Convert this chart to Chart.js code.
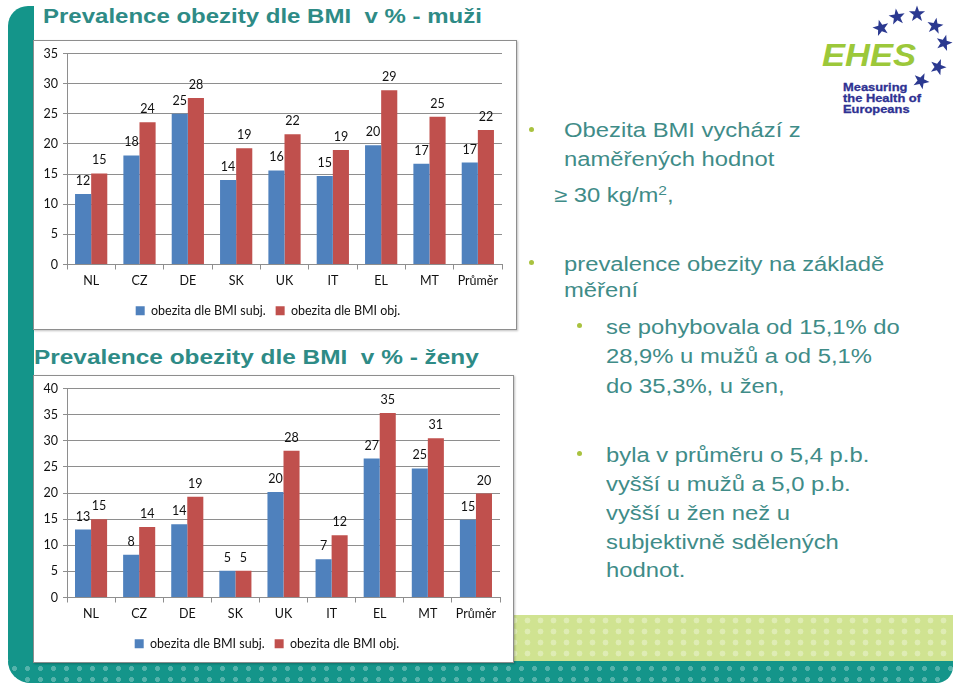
<!DOCTYPE html>
<html><head><meta charset="utf-8">
<script src="https://cdn.jsdelivr.net/npm/chart.js@4.4.1/dist/chart.umd.min.js"></script>
<style>
html,body{margin:0;padding:0;background:#fff;}
body{width:960px;height:690px;position:relative;overflow:hidden;font-family:"Liberation Sans",Arial,sans-serif;}
.abs{position:absolute;}
.leftband{left:8px;top:6px;width:26px;height:677px;background:#14958a;border-radius:20px 0 0 24px;}
.bottomband{left:8px;top:661px;width:945px;height:22px;background-color:#14958a;border-radius:0 0 18px 24px;
  background-image:radial-gradient(circle, rgba(255,255,255,0.28) 2.2px, transparent 2.8px);background-size:13px 11px;background-position:0 2px;}
.greenband{left:300px;top:615px;width:653px;height:46px;background-color:#d0e391;
  background-image:radial-gradient(circle, rgba(255,255,255,0.32) 2.6px, transparent 3.2px);background-size:13px 11px;}
.box{background:#fff;border:1px solid #8e8e8e;box-shadow:1px 1px 2px rgba(0,0,0,.25);box-sizing:content-box;}
.title{font-weight:bold;font-size:20px;line-height:20px;color:#2e8b86;white-space:nowrap;transform-origin:0 0;}
.txt{font-size:20px;line-height:20px;color:#3f8c88;white-space:nowrap;transform:scaleX(1.19);transform-origin:0 0;}
.txt sup{font-size:13px;line-height:0;vertical-align:7px;}
.bul{width:5px;height:5px;border-radius:50%;background:#a9c23f;}
.logo{color:#2e3192;font-weight:bold;font-size:11.5px;line-height:11px;white-space:nowrap;transform:scaleX(1.12);transform-origin:0 0;-webkit-text-stroke:0.3px #2e3192;}
.ehes{color:#9cc83a;font-weight:bold;font-style:italic;font-size:32px;line-height:32px;white-space:nowrap;transform:scaleX(1.08);transform-origin:0 0;}
</style></head>
<body>
<div class="abs greenband"></div>
<div class="abs leftband"></div>
<div class="abs bottomband"></div>

<div class="abs title" style="left:43px;top:6px;transform:scaleX(1.2);">Prevalence obezity dle BMI&nbsp; v % - muži</div>
<div class="abs title" style="left:34px;top:347px;transform:scaleX(1.22);">Prevalence obezity dle BMI&nbsp; v % - ženy</div>

<div class="abs box" style="left:33px;top:40px;width:482px;height:288px;"><canvas id="c1"></canvas></div>
<div class="abs box" style="left:33px;top:375px;width:479px;height:286px;"><canvas id="c2"></canvas></div>

<div class="abs bul" style="left:529px;top:127px;"></div>
<div class="abs txt" style="left:564px;top:120px;">Obezita BMI vychází z</div>
<div class="abs txt" style="left:564px;top:149px;">naměřených hodnot</div>
<div class="abs txt" style="left:554px;top:185px;">≥ 30 kg/m<sup>2</sup>,</div>
<div class="abs bul" style="left:529px;top:260px;"></div>
<div class="abs txt" style="left:564px;top:254px;">prevalence obezity na základě</div>
<div class="abs txt" style="left:564px;top:280px;">měření</div>
<div class="abs bul" style="left:577px;top:323px;"></div>
<div class="abs txt" style="left:606px;top:317px;">se pohybovala od 15,1% do</div>
<div class="abs txt" style="left:606px;top:346px;">28,9% u mužů a od 5,1%</div>
<div class="abs txt" style="left:606px;top:376px;">do 35,3%, u žen,</div>
<div class="abs bul" style="left:577px;top:451px;"></div>
<div class="abs txt" style="left:606px;top:445px;">byla v průměru o 5,4 p.b.</div>
<div class="abs txt" style="left:606px;top:474px;">vyšší u mužů a 5,0 p.b.</div>
<div class="abs txt" style="left:606px;top:503px;">vyšší u žen než u</div>
<div class="abs txt" style="left:606px;top:532px;">subjektivně sdělených</div>
<div class="abs txt" style="left:606px;top:560px;">hodnot.</div>

<svg class="abs" style="left:860px;top:0px;" width="100" height="100" viewBox="860 0 100 100">
  <defs><polygon id="st" points="0,-8.5 2,-2.8 8.1,-2.7 3.3,1.1 5,6.9 0,3.4 -5,6.9 -3.3,1.1 -8.1,-2.7 -2,-2.8" fill="#2b3990"/></defs>
  <use href="#st" transform="translate(881,28) rotate(-15)"/>
  <use href="#st" transform="translate(897,17) rotate(-8)"/>
  <use href="#st" transform="translate(917,14)"/>
  <use href="#st" transform="translate(935,26) rotate(10)"/>
  <use href="#st" transform="translate(944,43) rotate(15)"/>
  <use href="#st" transform="translate(938,67) rotate(20)"/>
  <use href="#st" transform="translate(921,81) rotate(25)"/>
</svg>
<div class="abs ehes" style="left:822px;top:39px;">EHES</div>
<div class="abs logo" style="left:843px;top:82px;">Measuring</div>
<div class="abs logo" style="left:843px;top:93px;">the Health of</div>
<div class="abs logo" style="left:843px;top:104px;">Europeans</div>

<script>
const categories = ['NL', 'CZ', 'DE', 'SK', 'UK', 'IT', 'EL', 'MT', 'Průměr'];
const seriesNames = ['obezita dle BMI subj.', 'obezita dle BMI obj.'];
const menSubj = [11.7, 18.1, 25.0, 14.0, 15.6, 14.7, 19.8, 16.7, 16.9];
const menObj = [15.1, 23.6, 27.6, 19.3, 21.6, 19.0, 28.9, 24.5, 22.3];
const womenSubj = [13.0, 8.2, 14.0, 5.1, 20.2, 7.3, 26.6, 24.7, 14.9];
const womenObj = [15.0, 13.5, 19.3, 5.1, 28.1, 11.9, 35.3, 30.5, 19.9];
const menAxisMax = 35;
const womenAxisMax = 40;
const axisStep = 5;

const colors = ['#4f81bd', '#c0504d'];
const textColor = '#111';
const gridColor = '#8e8e8e';

const valueLabels = {
  id: 'valueLabels',
  afterDatasetsDraw(chart) {
    const ctx = chart.ctx;
    ctx.save();
    ctx.font = '12.5px Lato';
    ctx.fillStyle = textColor;
    ctx.textAlign = 'center';
    ctx.textBaseline = 'alphabetic';
    chart.data.datasets.forEach((ds, i) => {
      chart.getDatasetMeta(i).data.forEach((bar, j) => {
        ctx.fillText(String(Math.round(ds.data[j])), bar.x, bar.y - 9);
      });
    });
    ctx.restore();
  }
};

function makeChart(id, subj, obj, yMax, pad) {
  return new Chart(document.getElementById(id), {
    type: 'bar',
    data: {
      labels: categories,
      datasets: [
        { label: seriesNames[0], data: subj, backgroundColor: colors[0], categoryPercentage: 0.667, barPercentage: 1 },
        { label: seriesNames[1], data: obj, backgroundColor: colors[1], categoryPercentage: 0.667, barPercentage: 1 }
      ]
    },
    options: {
      responsive: true, maintainAspectRatio: false, animation: false,
      layout: { padding: { left: 0, right: pad.right, top: pad.top, bottom: pad.bottom } },
      plugins: {
        legend: { position: 'bottom', labels: { boxWidth: 9, boxHeight: 9, font: { family: 'Lato', size: 12.5 }, color: textColor, padding: 10 } },
        tooltip: { enabled: false }
      },
      scales: {
        x: {
          grid: { display: true, drawOnChartArea: false, drawTicks: true, tickLength: 5, color: gridColor, offset: true },
          border: { color: gridColor },
          ticks: { font: { family: 'Lato', size: 12.5 }, color: textColor, padding: 4, maxRotation: 0, autoSkip: false },
          afterFit(s) { s.height = 30; }
        },
        y: {
          min: 0, max: yMax,
          ticks: { stepSize: axisStep, font: { family: 'Lato', size: 12.5 }, color: textColor, padding: 5 },
          grid: { color: gridColor, tickLength: 4 },
          border: { color: gridColor },
          afterFit(s) { s.width = 33; }
        }
      }
    },
    plugins: [valueLabels]
  });
}

document.fonts.load('12px Lato').then(() => {
  makeChart('c1', menSubj, menObj, menAxisMax, { right: 14, top: 10, bottom: 2 });
  makeChart('c2', womenSubj, womenObj, womenAxisMax, { right: 13, top: 9, bottom: 2 });
});
</script>
</body></html>
